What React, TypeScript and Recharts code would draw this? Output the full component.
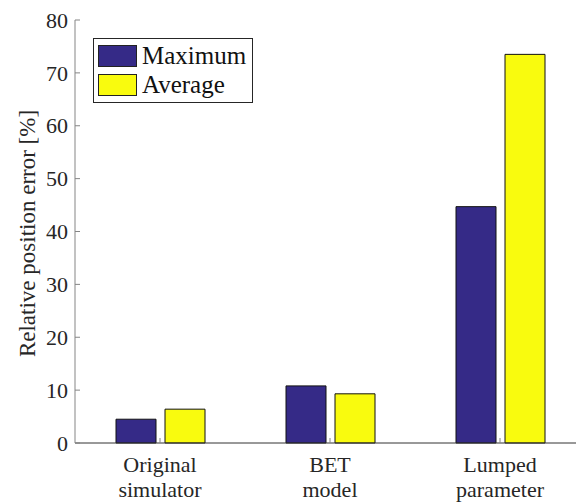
import { BarChart, Bar, XAxis, YAxis, Legend } from "recharts"

const categories = ["Original\nsimulator", "BET\nmodel", "Lumped\nparameter"]
const seriesNames = ["Maximum", "Average"]
const maximumError = [4.5, 10.8, 44.7]
const averageError = [6.4, 9.3, 73.5]
const yTicks = [0, 10, 20, 30, 40, 50, 60, 70, 80]

const data = categories.map((name, i) => ({
  name,
  maximum: maximumError[i],
  average: averageError[i],
}))

const FONT = "Liberation Serif, Times New Roman, DejaVu Serif, serif"
const NAVY = "#352A87"
const YELLOW = "#F9FB0E"
const AXIS_DARK = "#333333"
const AXIS_GRAY = "#858585"
const TICK_GAP = 7
const TICK_LEN = 5

function YTick(props: any) {
  const { x, y, payload } = props
  return (
    <g>
      <line x1={x + TICK_GAP} y1={y} x2={x + TICK_GAP + TICK_LEN} y2={y} stroke={AXIS_GRAY} />
      <text x={x} y={y} dy="0.35em" textAnchor="end" fontFamily={FONT} fontSize={22} fill="#262626">
        {payload.value}
      </text>
    </g>
  )
}

function XTick(props: any) {
  const { x, y, payload } = props
  const lines = String(payload.value).split("\n")
  return (
    <g>
      <line x1={x} y1={y} x2={x} y2={y - TICK_LEN} stroke={AXIS_GRAY} />
      {lines.map((line, i) => (
        <text key={i} x={x} y={y + 29 + i * 25} textAnchor="middle" fontFamily={FONT} fontSize={22} fill="#262626">
          {line}
        </text>
      ))}
    </g>
  )
}

function TopTick(props: any) {
  const { x, y } = props
  return <line x1={x} y1={y} x2={x} y2={y + TICK_LEN} stroke={AXIS_GRAY} />
}

function YLabel(props: any) {
  const { viewBox } = props
  const cx = viewBox.x + 27
  const cy = viewBox.y + viewBox.height / 2 + 2
  return (
    <text
      x={cx}
      y={cy}
      dy="0.35em"
      textAnchor="middle"
      transform={`rotate(-90, ${cx}, ${cy})`}
      fontFamily={FONT}
      fontSize={23}
      fill="#262626"
    >
      Relative position error [%]
    </text>
  )
}

function LegendBox(props: any) {
  const items = [...(props.payload || [])].sort(
    (a: any, b: any) => seriesNames.indexOf(a.value) - seriesNames.indexOf(b.value)
  )
  return (
    <div
      style={{
        border: "1px solid #262626",
        background: "#fff",
        padding: "2px 6px 2px 4px",
        fontFamily: FONT,
      }}
    >
      {items.map((entry: any) => (
        <div key={entry.value} style={{ display: "flex", alignItems: "center", height: 29.3 }}>
          <div
            style={{
              width: 39,
              height: 22,
              boxSizing: "border-box",
              border: "1px solid #222",
              background: entry.color,
              marginRight: 5,
            }}
          />
          <span style={{ fontFamily: FONT, fontSize: 25, lineHeight: 1, color: "#111" }}>{entry.value}</span>
        </div>
      ))}
    </div>
  )
}

export default function App() {
  return (
    <div
      style={{
        position: "absolute",
        left: 0,
        top: 0,
        width: 576,
        height: 503,
        overflow: "hidden",
        background: "#fff",
        fontFamily: FONT,
      }}
    >
      <BarChart
        width={600}
        height={503}
        data={data}
        margin={{ top: 20, right: 15, bottom: 0, left: 0 }}
        barSize={40}
        barGap={9}
      >
        <XAxis
          dataKey="name"
          height={60}
          tickSize={0}
          tickMargin={0}
          tick={<XTick />}
          axisLine={{ stroke: AXIS_DARK }}
          interval={0}
        />
        <XAxis
          xAxisId="top"
          dataKey="name"
          orientation="top"
          height={0}
          tickSize={0}
          tickMargin={0}
          tick={<TopTick />}
          axisLine={{ stroke: AXIS_DARK }}
          interval={0}
        />
        <YAxis
          width={75}
          domain={[0, 80]}
          ticks={yTicks}
          tickSize={0}
          tickMargin={TICK_GAP}
          tick={<YTick />}
          axisLine={{ stroke: AXIS_GRAY }}
          label={{ content: <YLabel /> }}
        />
        <Legend
          layout="vertical"
          align="center"
          verticalAlign="middle"
          content={<LegendBox />}
          wrapperStyle={{ left: 93, top: 38, width: "auto", height: "auto" }}
        />
        <Bar dataKey="maximum" name={seriesNames[0]} fill={NAVY} stroke="#111" strokeWidth={1} isAnimationActive={false} />
        <Bar dataKey="average" name={seriesNames[1]} fill={YELLOW} stroke="#111" strokeWidth={1} isAnimationActive={false} />
      </BarChart>
    </div>
  )
}
